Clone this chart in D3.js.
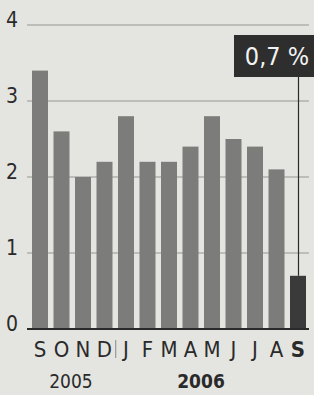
<!DOCTYPE html>
<html>
<head>
<meta charset="utf-8">
<script src="https://cdn.jsdelivr.net/npm/d3@7"></script>
<style>
  html, body { margin: 0; padding: 0; background: #e4e4e0; }
  svg { display: block; }
  text { font-family: "Liberation Sans Narrow", "DejaVu Sans Condensed", "Liberation Sans", sans-serif; }
</style>
</head>
<body>
<svg id="chart" width="314" height="395"></svg>
<script>
// monthly values, Sep 2005 - Sep 2006 (%)
const months = ['S', 'O', 'N', 'D', 'J', 'F', 'M', 'A', 'M', 'J', 'J', 'A', 'S'];
const values = [3.4, 2.6, 2.0, 2.2, 2.8, 2.2, 2.2, 2.4, 2.8, 2.5, 2.4, 2.1, 0.7];
const yTicks = [0, 1, 2, 3, 4];
const years = [{label: '2005', from: 0, to: 3}, {label: '2006', from: 4, to: 12}];
const lastLabel = '0,7 %';

const svg = d3.select('#chart');
const width = +svg.attr('width');

const x = d3.scaleBand()
  .domain(d3.range(values.length))
  .range([32, 306])
  .paddingInner(0.256)
  .paddingOuter(0);

const y = d3.scaleLinear()
  .domain([0, 4])
  .range([329, 25]);

// grid lines
svg.append('g')
  .selectAll('line')
  .data(yTicks.filter(d => d > 0))
  .enter()
  .append('line')
  .attr('x1', 27)
  .attr('x2', 309)
  .attr('y1', d => y(d))
  .attr('y2', d => y(d))
  .attr('stroke', '#959591')
  .attr('stroke-width', 1);

// y labels
svg.append('g')
  .selectAll('text')
  .data(yTicks)
  .enter()
  .append('text')
  .attr('x', 12)
  .attr('y', d => y(d) + 2)
  .attr('text-anchor', 'middle')
  .attr('font-size', 21)
  .attr('fill', '#2a2a2a')
  .text(d => d);

// bars
const last = values.length - 1;
svg.append('g')
  .selectAll('rect')
  .data(values)
  .enter()
  .append('rect')
  .attr('x', (d, i) => x(i))
  .attr('y', d => y(d))
  .attr('width', x.bandwidth())
  .attr('height', d => y(0) - y(d))
  .attr('fill', (d, i) => i === last ? '#3a3a3a' : '#7c7c7a');

// baseline
svg.append('line')
  .attr('x1', 27)
  .attr('x2', 309)
  .attr('y1', y(0))
  .attr('y2', y(0))
  .attr('stroke', '#2a2a2a')
  .attr('stroke-width', 2);

// callout line + box
const lx = x(last) + x.bandwidth() / 2 + 0.5;
svg.append('line')
  .attr('x1', lx)
  .attr('x2', lx)
  .attr('y1', 77)
  .attr('y2', y(values[last]))
  .attr('stroke', '#2a2a2a')
  .attr('stroke-width', 1.2);

svg.append('rect')
  .attr('x', 234)
  .attr('y', 35)
  .attr('width', width - 234)
  .attr('height', 42)
  .attr('fill', '#2e2e2e');

svg.append('text')
  .attr('x', 277)
  .attr('y', 65)
  .attr('text-anchor', 'middle')
  .attr('font-size', 25)
  .attr('fill', '#f2f2f2')
  .text(lastLabel);

// month labels
svg.append('g')
  .selectAll('text')
  .data(months)
  .enter()
  .append('text')
  .attr('x', (d, i) => x(i) + x.bandwidth() / 2)
  .attr('y', 357)
  .attr('text-anchor', 'middle')
  .attr('font-size', 22)
  .attr('font-weight', (d, i) => i === last ? 'bold' : 'normal')
  .attr('fill', '#2a2a2a')
  .text(d => d);

// separator between years
const sx = (x(3) + x.bandwidth() + x(4)) / 2 + 0.5;
svg.append('line')
  .attr('x1', sx)
  .attr('x2', sx)
  .attr('y1', 340)
  .attr('y2', 358)
  .attr('stroke', '#888')
  .attr('stroke-width', 1);

// year labels
svg.append('g')
  .selectAll('text')
  .data(years)
  .enter()
  .append('text')
  .attr('x', d => d.label === '2005' ? 71 : 201)
  .attr('y', 388)
  .attr('text-anchor', 'middle')
  .attr('font-size', 19)
  .attr('font-weight', d => d.label === '2006' ? 'bold' : 'normal')
  .attr('fill', '#2a2a2a')
  .text(d => d.label);
</script>
</body>
</html>
